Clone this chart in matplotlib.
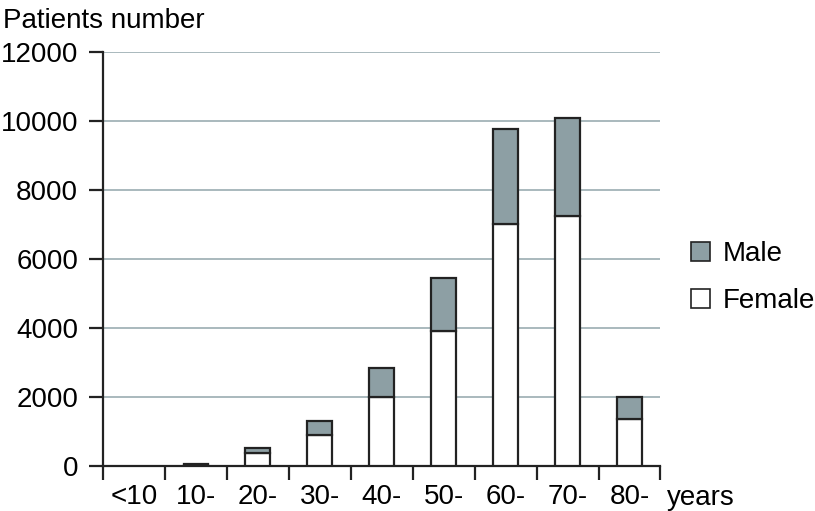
import numpy as np
import matplotlib
matplotlib.use("Agg")
import matplotlib.pyplot as plt
from matplotlib.patches import Patch

plt.rcParams['font.family'] = ['Liberation Sans', 'DejaVu Sans']

# datos
grupos = ['<10', '10-', '20-', '30-', '40-', '50-', '60-', '70-', '80-']
mujeres = [0, 30, 380, 900, 2000, 3910, 7030, 7250, 1370]
hombres = [0, 20, 150, 410, 840, 1540, 2730, 2830, 640]

gris = '#8d9fa4'
borde = '#222222'
tam = 20

fig = plt.figure(figsize=(8.15, 5.11), dpi=100)
ax = fig.add_axes([0.1264, 0.088, 0.684, 0.810])

x = np.arange(len(grupos))
# sin borde para las barras vacias
lw_m = [1.6 if v > 0 else 0 for v in mujeres]
lw_h = [1.6 if v > 0 else 0 for v in hombres]
ax.bar(x, mujeres, width=0.4, color='white', edgecolor=borde, linewidth=lw_m, zorder=3)
ax.bar(x, hombres, width=0.4, bottom=mujeres, color=gris, edgecolor=borde,
       linewidth=lw_h, zorder=3)

ax.set_xlim(-0.5, len(grupos) - 0.5)
ax.set_ylim(0, 12000)
ax.set_yticks(range(0, 12001, 2000))
ax.yaxis.grid(True, color='#a3b3b7', linewidth=1.3, zorder=0)

# ticks en los limites de cada categoria
ax.set_xticks(np.arange(-0.5, len(grupos), 1))
ax.set_xticklabels([])
ax.set_xticks(x, minor=True)
ax.set_xticklabels(grupos, minor=True)
ax.tick_params(axis='x', which='minor', length=0, labelsize=tam, pad=13)
ax.tick_params(axis='x', which='major', length=10, width=1.6, color=borde)
ax.tick_params(axis='y', length=10, width=1.6, color=borde, labelsize=tam, pad=8)

for lado in ['top', 'right']:
    ax.spines[lado].set_visible(False)
for lado in ['left', 'bottom']:
    ax.spines[lado].set_linewidth(1.6)
    ax.spines[lado].set_color(borde)

fig.text(0.004, 0.985, 'Patients number', fontsize=tam, ha='left', va='top')
fig.text(0.818, 0.025, 'years', fontsize=tam, ha='left', va='center')

handles = [Patch(facecolor=gris, edgecolor=borde, linewidth=1.2, label='Male'),
           Patch(facecolor='white', edgecolor=borde, linewidth=1.2, label='Female')]
ax.legend(handles=handles, loc='center left', bbox_to_anchor=(1.034, 0.455),
          borderaxespad=0, frameon=False, fontsize=tam, handlelength=0.7,
          handleheight=0.7, handletextpad=0.45, labelspacing=0.75)

fig.savefig('out.png', dpi=100)
